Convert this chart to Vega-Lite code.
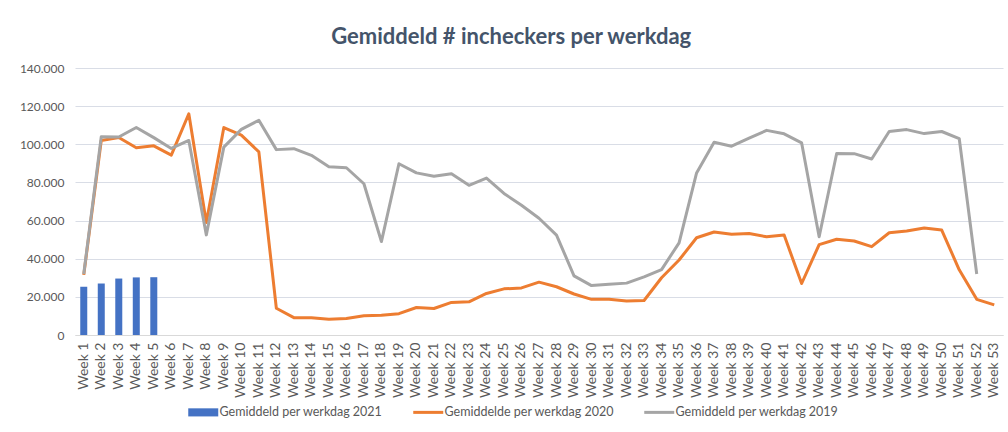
{
  "$schema": "https://vega.github.io/schema/vega-lite/v6.json",
  "width": 928,
  "height": 267,
  "autosize": {"type": "none"},
  "padding": {"left": 75, "top": 68, "right": 5, "bottom": 97},
  "background": "white",
  "title": {"text": "Gemiddeld # incheckers per werkdag", "fontSize": 22, "font": "Lato", "fontWeight": "bold", "color": "#44546a", "offset": 13, "anchor": "middle", "frame": "bounds"},
  "config": {
    "locale": {"number": {"decimal": ",", "thousands": ".", "grouping": [3], "currency": ["€", ""]}},
    "view": {"stroke": null},
    "font": "Lato"
  },
  "data": {"values": [
    {"wk": 1, "s": "Gemiddeld per werkdag 2021", "v": 25300},
    {"wk": 2, "s": "Gemiddeld per werkdag 2021", "v": 27000},
    {"wk": 3, "s": "Gemiddeld per werkdag 2021", "v": 29600},
    {"wk": 4, "s": "Gemiddeld per werkdag 2021", "v": 30200},
    {"wk": 5, "s": "Gemiddeld per werkdag 2021", "v": 30300},
    {"wk": 1, "s": "Gemiddelde per werkdag 2020", "v": 31500},
    {"wk": 2, "s": "Gemiddelde per werkdag 2020", "v": 102000},
    {"wk": 3, "s": "Gemiddelde per werkdag 2020", "v": 103600},
    {"wk": 4, "s": "Gemiddelde per werkdag 2020", "v": 98200},
    {"wk": 5, "s": "Gemiddelde per werkdag 2020", "v": 99200},
    {"wk": 6, "s": "Gemiddelde per werkdag 2020", "v": 94300},
    {"wk": 7, "s": "Gemiddelde per werkdag 2020", "v": 116000},
    {"wk": 8, "s": "Gemiddelde per werkdag 2020", "v": 59000},
    {"wk": 9, "s": "Gemiddelde per werkdag 2020", "v": 108800},
    {"wk": 10, "s": "Gemiddelde per werkdag 2020", "v": 104800},
    {"wk": 11, "s": "Gemiddelde per werkdag 2020", "v": 96000},
    {"wk": 12, "s": "Gemiddelde per werkdag 2020", "v": 14000},
    {"wk": 13, "s": "Gemiddelde per werkdag 2020", "v": 9100},
    {"wk": 14, "s": "Gemiddelde per werkdag 2020", "v": 9100},
    {"wk": 15, "s": "Gemiddelde per werkdag 2020", "v": 8300},
    {"wk": 16, "s": "Gemiddelde per werkdag 2020", "v": 8700},
    {"wk": 17, "s": "Gemiddelde per werkdag 2020", "v": 10100},
    {"wk": 18, "s": "Gemiddelde per werkdag 2020", "v": 10300},
    {"wk": 19, "s": "Gemiddelde per werkdag 2020", "v": 11200},
    {"wk": 20, "s": "Gemiddelde per werkdag 2020", "v": 14400},
    {"wk": 21, "s": "Gemiddelde per werkdag 2020", "v": 13900},
    {"wk": 22, "s": "Gemiddelde per werkdag 2020", "v": 17100},
    {"wk": 23, "s": "Gemiddelde per werkdag 2020", "v": 17400},
    {"wk": 24, "s": "Gemiddelde per werkdag 2020", "v": 21800},
    {"wk": 25, "s": "Gemiddelde per werkdag 2020", "v": 24200},
    {"wk": 26, "s": "Gemiddelde per werkdag 2020", "v": 24700},
    {"wk": 27, "s": "Gemiddelde per werkdag 2020", "v": 27700},
    {"wk": 28, "s": "Gemiddelde per werkdag 2020", "v": 25300},
    {"wk": 29, "s": "Gemiddelde per werkdag 2020", "v": 21500},
    {"wk": 30, "s": "Gemiddelde per werkdag 2020", "v": 18700},
    {"wk": 31, "s": "Gemiddelde per werkdag 2020", "v": 18700},
    {"wk": 32, "s": "Gemiddelde per werkdag 2020", "v": 17800},
    {"wk": 33, "s": "Gemiddelde per werkdag 2020", "v": 18100},
    {"wk": 34, "s": "Gemiddelde per werkdag 2020", "v": 30000},
    {"wk": 35, "s": "Gemiddelde per werkdag 2020", "v": 39300},
    {"wk": 36, "s": "Gemiddelde per werkdag 2020", "v": 51000},
    {"wk": 37, "s": "Gemiddelde per werkdag 2020", "v": 54000},
    {"wk": 38, "s": "Gemiddelde per werkdag 2020", "v": 52800},
    {"wk": 39, "s": "Gemiddelde per werkdag 2020", "v": 53200},
    {"wk": 40, "s": "Gemiddelde per werkdag 2020", "v": 51500},
    {"wk": 41, "s": "Gemiddelde per werkdag 2020", "v": 52400},
    {"wk": 42, "s": "Gemiddelde per werkdag 2020", "v": 27000},
    {"wk": 43, "s": "Gemiddelde per werkdag 2020", "v": 47400},
    {"wk": 44, "s": "Gemiddelde per werkdag 2020", "v": 50200},
    {"wk": 45, "s": "Gemiddelde per werkdag 2020", "v": 49300},
    {"wk": 46, "s": "Gemiddelde per werkdag 2020", "v": 46300},
    {"wk": 47, "s": "Gemiddelde per werkdag 2020", "v": 53600},
    {"wk": 48, "s": "Gemiddelde per werkdag 2020", "v": 54500},
    {"wk": 49, "s": "Gemiddelde per werkdag 2020", "v": 56100},
    {"wk": 50, "s": "Gemiddelde per werkdag 2020", "v": 55000},
    {"wk": 51, "s": "Gemiddelde per werkdag 2020", "v": 34200},
    {"wk": 52, "s": "Gemiddelde per werkdag 2020", "v": 18700},
    {"wk": 53, "s": "Gemiddelde per werkdag 2020", "v": 15800},
    {"wk": 1, "s": "Gemiddeld per werkdag 2019", "v": 32000},
    {"wk": 2, "s": "Gemiddeld per werkdag 2019", "v": 104000},
    {"wk": 3, "s": "Gemiddeld per werkdag 2019", "v": 103800},
    {"wk": 4, "s": "Gemiddeld per werkdag 2019", "v": 108800},
    {"wk": 5, "s": "Gemiddeld per werkdag 2019", "v": 103500},
    {"wk": 6, "s": "Gemiddeld per werkdag 2019", "v": 97800},
    {"wk": 7, "s": "Gemiddeld per werkdag 2019", "v": 102000},
    {"wk": 8, "s": "Gemiddeld per werkdag 2019", "v": 52500},
    {"wk": 9, "s": "Gemiddeld per werkdag 2019", "v": 98500},
    {"wk": 10, "s": "Gemiddeld per werkdag 2019", "v": 107800},
    {"wk": 11, "s": "Gemiddeld per werkdag 2019", "v": 112600},
    {"wk": 12, "s": "Gemiddeld per werkdag 2019", "v": 97200},
    {"wk": 13, "s": "Gemiddeld per werkdag 2019", "v": 97700},
    {"wk": 14, "s": "Gemiddeld per werkdag 2019", "v": 94200},
    {"wk": 15, "s": "Gemiddeld per werkdag 2019", "v": 88200},
    {"wk": 16, "s": "Gemiddeld per werkdag 2019", "v": 87700},
    {"wk": 17, "s": "Gemiddeld per werkdag 2019", "v": 79300},
    {"wk": 18, "s": "Gemiddeld per werkdag 2019", "v": 49000},
    {"wk": 19, "s": "Gemiddeld per werkdag 2019", "v": 89800},
    {"wk": 20, "s": "Gemiddeld per werkdag 2019", "v": 85000},
    {"wk": 21, "s": "Gemiddeld per werkdag 2019", "v": 83200},
    {"wk": 22, "s": "Gemiddeld per werkdag 2019", "v": 84600},
    {"wk": 23, "s": "Gemiddeld per werkdag 2019", "v": 78500},
    {"wk": 24, "s": "Gemiddeld per werkdag 2019", "v": 82300},
    {"wk": 25, "s": "Gemiddeld per werkdag 2019", "v": 74200},
    {"wk": 26, "s": "Gemiddeld per werkdag 2019", "v": 68000},
    {"wk": 27, "s": "Gemiddeld per werkdag 2019", "v": 61200},
    {"wk": 28, "s": "Gemiddeld per werkdag 2019", "v": 52400},
    {"wk": 29, "s": "Gemiddeld per werkdag 2019", "v": 31000},
    {"wk": 30, "s": "Gemiddeld per werkdag 2019", "v": 25900},
    {"wk": 31, "s": "Gemiddeld per werkdag 2019", "v": 26600},
    {"wk": 32, "s": "Gemiddeld per werkdag 2019", "v": 27200},
    {"wk": 33, "s": "Gemiddeld per werkdag 2019", "v": 30500},
    {"wk": 34, "s": "Gemiddeld per werkdag 2019", "v": 34300},
    {"wk": 35, "s": "Gemiddeld per werkdag 2019", "v": 48300},
    {"wk": 36, "s": "Gemiddeld per werkdag 2019", "v": 85000},
    {"wk": 37, "s": "Gemiddeld per werkdag 2019", "v": 101100},
    {"wk": 38, "s": "Gemiddeld per werkdag 2019", "v": 99000},
    {"wk": 39, "s": "Gemiddeld per werkdag 2019", "v": 103200},
    {"wk": 40, "s": "Gemiddeld per werkdag 2019", "v": 107300},
    {"wk": 41, "s": "Gemiddeld per werkdag 2019", "v": 105500},
    {"wk": 42, "s": "Gemiddeld per werkdag 2019", "v": 100700},
    {"wk": 43, "s": "Gemiddeld per werkdag 2019", "v": 51500},
    {"wk": 44, "s": "Gemiddeld per werkdag 2019", "v": 95200},
    {"wk": 45, "s": "Gemiddeld per werkdag 2019", "v": 95100},
    {"wk": 46, "s": "Gemiddeld per werkdag 2019", "v": 92300},
    {"wk": 47, "s": "Gemiddeld per werkdag 2019", "v": 106700},
    {"wk": 48, "s": "Gemiddeld per werkdag 2019", "v": 107700},
    {"wk": 49, "s": "Gemiddeld per werkdag 2019", "v": 105600},
    {"wk": 50, "s": "Gemiddeld per werkdag 2019", "v": 106700},
    {"wk": 51, "s": "Gemiddeld per werkdag 2019", "v": 103000},
    {"wk": 52, "s": "Gemiddeld per werkdag 2019", "v": 32000}
  ]},
  "encoding": {
    "x": {"field": "wk", "type": "ordinal", "scale": {"paddingInner": 0, "paddingOuter": 0},
      "axis": {"title": null, "labelExpr": "'Week ' + datum.value", "labelAngle": -90, "labelFont": "Lato", "labelFontSize": 14, "labelColor": "#595959", "labelPadding": 7, "ticks": false, "domainColor": "#d9d9d9", "domainWidth": 1, "grid": false}},
    "y": {"field": "v", "type": "quantitative", "scale": {"domain": [0, 140000]},
      "axis": {"title": null, "values": [0, 20000, 40000, 60000, 80000, 100000, 120000, 140000], "format": ",.0f", "labelFont": "Lato", "labelFontSize": 12, "labelColor": "#595959", "labelPadding": 11, "ticks": false, "domain": false, "gridColor": "#d9dde6", "gridWidth": 1}},
    "color": {"field": "s", "type": "nominal",
      "scale": {"domain": ["Gemiddeld per werkdag 2021", "Gemiddelde per werkdag 2020", "Gemiddeld per werkdag 2019"], "range": ["#4472c4", "#ed7d31", "#a5a5a5"]},
      "legend": {"title": null, "orient": "none", "legendX": 122, "legendY": 338, "direction": "horizontal", "labelFont": "Lato", "labelFontSize": 12.5, "labelColor": "#595959", "labelLimit": 400, "symbolSize": 900, "labelOffset": 10, "columnPadding": 24,
        "encode": {"symbols": {"update": {
          "shape": {"signal": "datum.value == 'Gemiddeld per werkdag 2021' ? 'M-1,-0.27H1V0.27H-1Z' : 'stroke'"},
          "fill": {"signal": "datum.value == 'Gemiddeld per werkdag 2021' ? '#4472c4' : 'transparent'"},
          "stroke": {"signal": "datum.value == 'Gemiddeld per werkdag 2021' ? 'transparent' : (datum.value == 'Gemiddelde per werkdag 2020' ? '#ed7d31' : '#a5a5a5')"},
          "strokeWidth": {"signal": "datum.value == 'Gemiddeld per werkdag 2021' ? 0 : 3"},
          "opacity": {"value": 1}, "fillOpacity": {"value": 1}, "strokeOpacity": {"value": 1}
        }}}}
    }
  },
  "layer": [
    {"transform": [{"filter": "datum.s == 'Gemiddeld per werkdag 2021'"}], "mark": {"type": "bar", "width": {"band": 0.4}, "opacity": 1}},
    {"transform": [{"filter": "datum.s == 'Gemiddelde per werkdag 2020'"}], "mark": {"type": "line", "strokeWidth": 3, "strokeJoin": "round"}},
    {"transform": [{"filter": "datum.s == 'Gemiddeld per werkdag 2019'"}], "mark": {"type": "line", "strokeWidth": 3, "strokeJoin": "round"}}
  ]
}
